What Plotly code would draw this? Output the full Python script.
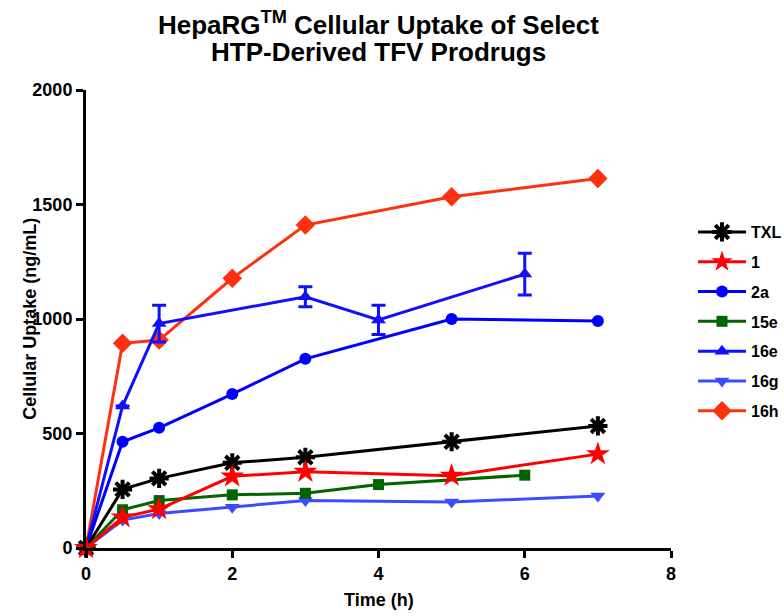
import plotly.graph_objects as go

# Time points (h)
t_full = [0, 0.5, 1, 2, 3, 5, 7]
t_15e = [0, 0.5, 1, 2, 3, 4, 6]
t_16e = [0, 0.5, 1, 3, 4, 6]

# Cellular uptake (ng/mL)
txl = [0, 256, 304, 372, 396, 464, 533]
c1 = [0, 134, 170, 313, 333, 316, 410]
c2a = [0, 464, 525, 672, 826, 1000, 991]
c15e = [0, 167, 207, 232, 239, 277, 318]
c16e = [0, 620, 980, 1097, 996, 1196]
c16e_err = [0, 0, 80, 44, 64, 91]
c16g = [0, 122, 151, 178, 207, 201, 227]
c16h = [0, 894, 908, 1178, 1410, 1534, 1614]

title_lines = ["HepaRG<sup>TM</sup> Cellular Uptake of Select", "HTP-Derived TFV Prodrugs"]

FONT = "Liberation Sans, Arial, sans-serif"

fig = go.Figure()

def add(name, x, y, color, symbol, size, rank, err=None, line_w=3, mline=0):
    kw = {}
    if err is not None:
        kw["error_y"] = dict(type="data", array=err, visible=True, color=color,
                             thickness=3, width=7)
    fig.add_trace(go.Scatter(
        x=x, y=y, name=name, mode="lines+markers", legendgroup=name,
        line=dict(color=color, width=line_w),
        marker=dict(color=color, symbol=symbol, size=size,
                    line=dict(color=color, width=mline)),
        cliponaxis=False, legendrank=rank, **kw))

add("16h", t_full, c16h, "#FF3010", "diamond", 15, 7)
add("16g", t_full, c16g, "#3B4CFF", "triangle-down", 13, 6)
add("16e", t_16e, c16e, "#1010FF", "triangle-up", 13, 5, err=c16e_err)
add("15e", t_15e, c15e, "#006400", "square", 11, 4)
add("2a", t_full, c2a, "#0000FF", "circle", 12, 3)
add("TXL", t_full, txl, "#000000", "asterisk-open", 16, 1, mline=4)
add("1", t_full, c1, "#FF0000", "star", 18, 2)

axis_common = dict(
    showline=True, linecolor="black", linewidth=3, mirror=False,
    ticks="outside", ticklen=7, tickwidth=3, tickcolor="black",
    showgrid=False, zeroline=False,
    tickfont=dict(family=FONT, size=18, color="black", weight="bold"),
)

annotations = [
    dict(text="<b>Time (h)</b>", x=0.5, y=-0.113, xref="paper", yref="paper",
         xanchor="center", yanchor="middle", showarrow=False,
         font=dict(family=FONT, size=18, color="black")),
    dict(text="<b>Cellular Uptake (ng/mL)</b>", x=-0.096, y=0.5,
         xref="paper", yref="paper", xanchor="center", yanchor="middle",
         textangle=-90, showarrow=False,
         font=dict(family=FONT, size=18, color="black")),
]
for line, yy in zip(title_lines, [1.146, 1.083]):
    annotations.append(dict(
        text="<b>" + line + "</b>", x=0.5, y=yy, xref="paper", yref="paper",
        xanchor="center", yanchor="middle", showarrow=False,
        font=dict(family=FONT, size=26, color="black")))

fig.update_layout(
    width=784, height=616,
    paper_bgcolor="white", plot_bgcolor="white",
    margin=dict(l=86, r=113, t=90, b=68, autoexpand=False),
    font=dict(family=FONT, color="black"),
    xaxis=dict(range=[0, 8], tickvals=[0, 2, 4, 6, 8], **axis_common),
    yaxis=dict(range=[0, 2000], tickvals=[0, 500, 1000, 1500, 2000], **axis_common),
    legend=dict(
        x=1.0376, y=0.727, xanchor="left", yanchor="top",
        font=dict(family=FONT, size=16, color="black", weight="bold"),
        bgcolor="rgba(0,0,0,0)", itemwidth=48, tracegroupgap=6,
    ),
    annotations=annotations,
)

fig.write_html(
    "out.html",
    config={"displayModeBar": False},
    post_script="document.body.style.margin='0';document.body.style.overflow='hidden';",
)
